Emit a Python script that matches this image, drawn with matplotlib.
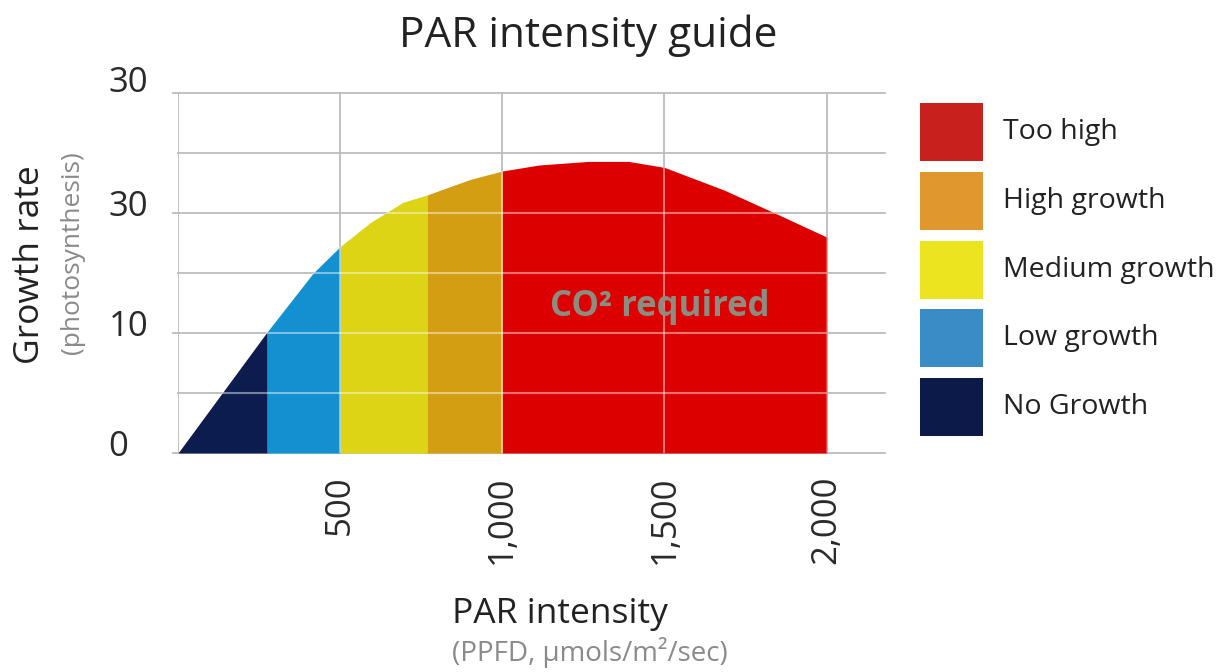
import numpy as np
import matplotlib
matplotlib.use("Agg")
import matplotlib.pyplot as plt
from matplotlib.patches import Polygon, Rectangle
import matplotlib.transforms as mtransforms

plt.rcParams['font.family'] = ['Open Sans', 'DejaVu Sans']

# ---------------- data ----------------
curve_x = [0, 275, 417, 500, 593, 694, 768, 901, 1000, 1113, 1265, 1389, 1500, 1685, 1840, 2000]
curve_y = [0, 10.1, 15.0, 17.2, 19.2, 20.9, 21.5, 22.8, 23.5, 24.0, 24.3, 24.3, 23.8, 21.9, 20.0, 18.0]

zone_names = ["No Growth", "Low growth", "Medium growth", "High growth", "Too high"]
zone_edges = [0, 275, 500, 768, 1000, 2000]
zone_colors = ["#0c1c4e", "#1390d0", "#dcd414", "#d49e12", "#dd0000"]
legend_colors = ["#0c1a4a", "#3a8cc6", "#ece41e", "#e0982e", "#c8201c"]

x_ticks = [500, 1000, 1500, 2000]
x_tick_labels = ["500", "1,000", "1,500", "2,000"]
y_ticks = [0, 10, 20, 30]
y_tick_labels = ["0", "10", "30", "30"]

# ---------------- figure ----------------
W, H = 1228, 672
fig = plt.figure(figsize=(W / 100, H / 100), dpi=100)

def fx(px):
    return px / W

def fy(py):
    return 1 - py / H

ax = fig.add_axes([fx(178), fy(453), fx(885) - fx(178), fy(93) - fy(453)])
ax.set_xlim(0, 2180)
ax.set_ylim(0, 30)

cx = np.array(curve_x, dtype=float)
cy = np.array(curve_y, dtype=float)

for i, name in enumerate(zone_names):
    lo, hi = zone_edges[i], zone_edges[i + 1]
    m = (cx >= lo) & (cx <= hi)
    ax.fill_between(cx[m], 0, cy[m], color=zone_colors[i], linewidth=0, zorder=2)

# gray grid under the fill
grid_c = "#bcbcbc"
for yv in [0, 5, 10, 15, 20, 25, 30]:
    ax.axhline(yv, color=grid_c, lw=1.3, zorder=1, clip_on=False)
for xv in [0] + x_ticks:
    ax.axvline(xv, color=grid_c, lw=1.3, zorder=1)

# light grid lines on top of the filled area
clip = Polygon(np.column_stack([np.r_[cx, cx[-1], 0], np.r_[cy, 0, 0]]),
               closed=True, transform=ax.transData, facecolor='none', edgecolor='none')
ax.add_patch(clip)
for yv in [5, 10, 15, 20, 25]:
    ln = ax.axhline(yv, color="white", lw=1.5, alpha=0.45, zorder=3)
    ln.set_clip_path(clip)
for xv in x_ticks:
    ln = ax.axvline(xv, color="white", lw=1.5, alpha=0.45, zorder=3)
    ln.set_clip_path(clip)

for s in ax.spines.values():
    s.set_visible(False)

ax.set_xticks(x_ticks, x_tick_labels, rotation=90, fontsize=25, color="#2a2a2a")
ax.set_yticks(y_ticks, y_tick_labels, fontsize=25, color="#2a2a2a")
ax.tick_params(axis='x', length=0, pad=16)
ax.tick_params(axis='y', length=4, color=grid_c, width=1.3, pad=46)
for j, lab in enumerate(ax.get_yticklabels()):
    dy = 14 if j == len(y_ticks) - 1 else 10
    off = mtransforms.ScaledTranslation(0, dy / 100, fig.dpi_scale_trans)
    lab.set_horizontalalignment('left')
    lab.set_transform(lab.get_transform() + off)

ax.text(1487, 12.2, "CO² required", ha="center", va="center",
        fontsize=25, fontweight="bold", color="#8c8c80", zorder=4)

# titles / labels
fig.text(fx(588), fy(36), "PAR intensity guide", ha="center", va="center",
         fontsize=30.5, color="#222222")
fig.text(fx(30), fy(265), "Growth rate", rotation=90, ha="center", va="center",
         fontsize=25.5, color="#222222")
fig.text(fx(73), fy(253), "(photosynthesis)", rotation=90, ha="center", va="center",
         fontsize=19, color="#8a8a8a")
fig.text(fx(452), fy(614), "PAR intensity", ha="left", va="center",
         fontsize=25.5, color="#222222")
fig.text(fx(452), fy(652), "(PPFD, µmols/m²/sec)", ha="left", va="center",
         fontsize=20, color="#8a8a8a")

# legend (top to bottom: Too high ... No Growth)
top = 103
step = 68.8
for k, i in enumerate(range(len(zone_names) - 1, -1, -1)):
    y0 = top + k * step
    fig.patches.append(Rectangle((fx(920), fy(y0 + 58)), fx(983) - fx(920), fy(y0) - fy(y0 + 58),
                                 transform=fig.transFigure, facecolor=legend_colors[i],
                                 edgecolor='none'))
    fig.text(fx(1003), fy(y0 + 29), zone_names[i], ha="left", va="center",
             fontsize=20.5, color="#222222")

fig.savefig("out.png", dpi=100)
